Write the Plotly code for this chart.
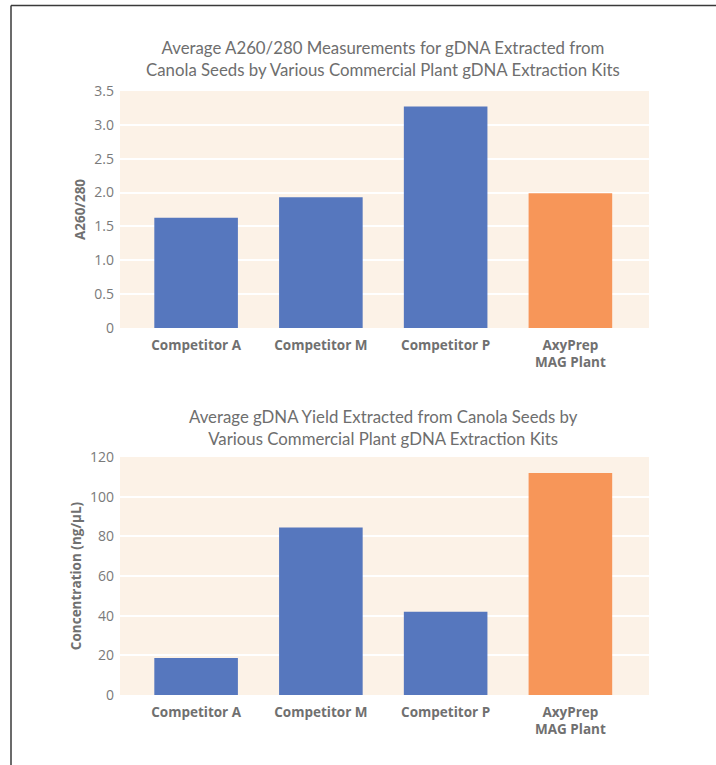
import plotly.graph_objects as go

categories = ["Competitor A", "Competitor M", "Competitor P", "AxyPrep<br>MAG Plant"]
ratio_values = [1.63, 1.93, 3.27, 1.99]
yield_values = [18.7, 84.5, 42.0, 111.9]
bar_colors = ["#5677BE", "#5677BE", "#5677BE", "#F79659"]
ratio_ticks = [0, 0.5, 1, 1.5, 2, 2.5, 3, 3.5]
ratio_ticktext = ["0", "0.5", "1.0", "1.5", "2.0", "2.5", "3.0", "3.5"]
yield_ticks = [0, 20, 40, 60, 80, 100, 120]

title_top = "Average A260/280 Measurements for gDNA Extracted from<br>Canola Seeds by Various Commercial Plant gDNA Extraction Kits"
title_bottom = "Average gDNA Yield Extracted from Canola Seeds by<br>Various Commercial Plant gDNA Extraction Kits"

W, H = 716, 765
def px(x):
    return x / W
def py(y):
    return 1 - y / H

fig = go.Figure()
fig.add_trace(go.Bar(x=categories, y=ratio_values, marker=dict(color=bar_colors, line=dict(width=0)),
                     width=0.67, xaxis="x", yaxis="y", showlegend=False, hoverinfo="skip"))
fig.add_trace(go.Bar(x=categories, y=yield_values, marker=dict(color=bar_colors, line=dict(width=0)),
                     width=0.67, xaxis="x2", yaxis="y2", showlegend=False, hoverinfo="skip"))

tickfont = dict(family="Open Sans", size=14, color="#7A7A7A")
catfont = dict(family="Open Sans", size=13.5, color="#707070")
titlefont = dict(family="Open Sans", size=13.5, color="#707070")

xcommon = dict(range=[-0.61, 3.63], showgrid=False, zeroline=False, showline=False,
               ticks="", tickfont=catfont, fixedrange=True, automargin=False,
               ticklabelstandoff=7,
               tickvals=categories, ticktext=["<b>" + c + "</b>" for c in categories])
ycommon = dict(showgrid=True, gridcolor="#FFFFFF", gridwidth=1.5, zeroline=False, showline=False,
               ticks="", tickfont=tickfont, automargin=False, ticklabelstandoff=5, fixedrange=True)

fig.update_layout(
    width=W, height=H,
    margin=dict(l=0, r=0, t=0, b=0, autoexpand=False),
    paper_bgcolor="white",
    plot_bgcolor="#FCF2E7",
    xaxis=dict(domain=[px(120), px(649)], anchor="y", **xcommon),
    yaxis=dict(domain=[py(328), py(91)], anchor="x", range=[0, 3.5],
               tickvals=ratio_ticks, ticktext=ratio_ticktext,
               title=dict(text="<b>A260/280</b>", font=titlefont, standoff=5), **ycommon),
    xaxis2=dict(domain=[px(120), px(649)], anchor="y2", **xcommon),
    yaxis2=dict(domain=[py(695), py(457)], anchor="x2", range=[0, 120], tickvals=yield_ticks,
                title=dict(text="<b>Concentration (ng/µL)</b>", font=titlefont, standoff=5), **ycommon),
    font=dict(family="Open Sans", color="#707070"),
)

fig.add_annotation(text=title_top, x=px(383), y=py(59), xref="paper", yref="paper",
                   showarrow=False, font=dict(family="Lato", size=16.8, color="#6E6E6E"),
                   xanchor="center", yanchor="middle")
fig.add_annotation(text=title_bottom, x=px(383), y=py(427), xref="paper", yref="paper",
                   showarrow=False, font=dict(family="Lato", size=16.8, color="#6E6E6E"),
                   xanchor="center", yanchor="middle")

# frame lines
fig.add_shape(type="line", xref="paper", yref="paper", x0=px(11), x1=1.0, y0=py(5.5), y1=py(5.5),
              line=dict(color="#3A3A3A", width=1.5))
fig.add_shape(type="line", xref="paper", yref="paper", x0=px(11), x1=px(11), y0=py(5.5), y1=0,
              line=dict(color="#3A3A3A", width=1.5))

fig.write_html("out.html", config={"displayModeBar": False},
               post_script="document.body.style.margin='0';document.body.style.padding='0';")
